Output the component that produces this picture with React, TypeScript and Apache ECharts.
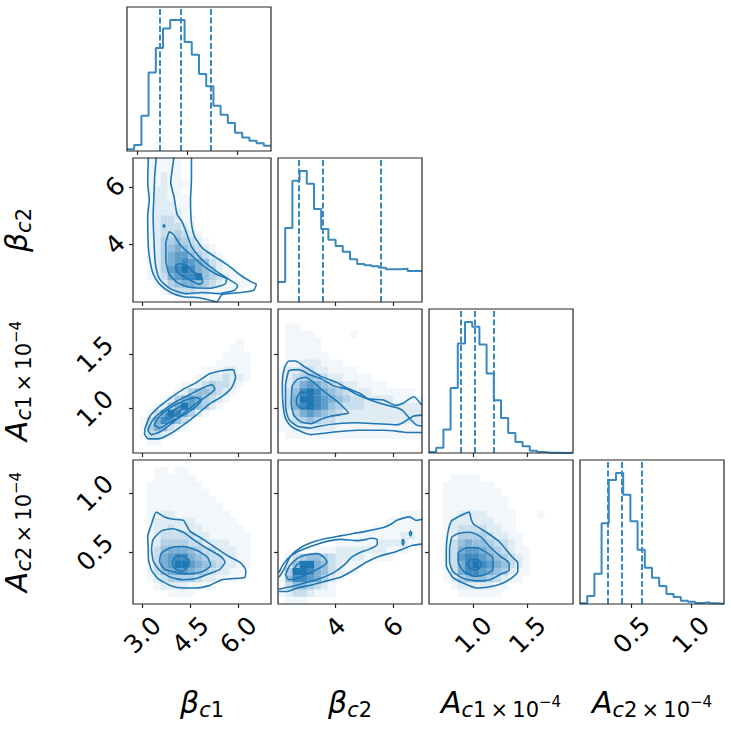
import React, { useEffect, useRef } from 'react';
import * as echarts from 'echarts';

type Pt = [number, number];
type Contour = { closed: boolean; pts: Pt[] };

// ---------- axis ranges and ticks ----------
const betaC1Range: Pt = [2.7, 7.02];
const betaC2Range: Pt = [2.0, 7.0];
const aC1Range: Pt = [0.59, 1.92];
const aC2Range: Pt = [0.065, 1.28];

const betaC1Ticks = [3.0, 4.5, 6.0];
const betaC2Ticks = [4, 6];
const aC1Ticks = [1.0, 1.5];
const aC2Ticks = [0.5, 1.0];
const betaC1TickLabels = ['3.0', '4.5', '6.0'];
const betaC2TickLabels = ['4', '6'];
const aC1TickLabels = ['1.0', '1.5'];
const aC2TickLabels = ['0.5', '1.0'];

const axisTitles = [
  '{m|β}{si|c}{s|1}',
  '{m|β}{si|c}{s|2}',
  '{m|A}{si|c}{s|1\u2009×\u200910}{sup|−4}',
  '{m|A}{si|c}{s|2\u2009×\u200910}{sup|−4}',
];

// ---------- 1D histograms (20 bins over the axis range) ----------
const betaC1Hist = [5, 18, 106, 236, 310, 369, 394, 394, 328, 290, 232, 195, 136, 109, 84, 55, 41, 31, 23, 16];
const betaC2Hist = [60, 222, 364, 393, 355, 279, 219, 187, 168, 151, 128, 114, 110, 107, 103, 98, 98, 100, 93, 93];
const aC1Hist = [3, 16, 70, 195, 328, 392, 378, 325, 238, 158, 105, 60, 33, 20, 7, 3, 1, 1, 0, 1];
const aC2Hist = [2, 24, 91, 243, 373, 394, 329, 249, 163, 109, 79, 54, 30, 21, 10, 7, 3, 5, 2, 1];

const betaC1Quantiles = [3.68, 4.3, 5.2];
const betaC2Quantiles = [2.71, 3.54, 5.57];
const aC1Quantiles = [0.875, 1.012, 1.186];
const aC2Quantiles = [0.301, 0.421, 0.591];

// ---------- 2D densities (rows top -> bottom, 20 x 20, 0..9) ----------
const densBetaC2VsBetaC1 = [
  '00111110000000000000',
  '00111110000000000000',
  '00112110000000000000',
  '00112111000000000000',
  '00122110000000000000',
  '00122111000000000000',
  '00122211000000000000',
  '00122221000000000000',
  '00123321100000000000',
  '00123332100000000000',
  '00123343210000000000',
  '00124454321000000000',
  '00124565432100000000',
  '00124677543210000000',
  '00124678765321000000',
  '00124789865421100000',
  '00123678895432110000',
  '00012456654321111000',
  '00001233322111000000',
  '00000011111000000000',
];
const densAC1VsBetaC1 = [
  '00000000000000000000',
  '00000000000000000000',
  '00000000000000000000',
  '00000000000000000000',
  '00000000000000010000',
  '00000000000000110000',
  '00000000000001111000',
  '00000000000011111000',
  '00000000001112211000',
  '00000000011223221000',
  '00000001123433210000',
  '00000012455432100000',
  '00001246764321000000',
  '00012469754210000000',
  '00136986421000000000',
  '01368753100000000000',
  '01465321000000000000',
  '01332100000000000000',
  '00110000000000000000',
  '00000000000000000000',
];
const densAC2VsBetaC1 = [
  '00000000000000000000',
  '00011011000000000000',
  '00011111100000000000',
  '00111111110000000000',
  '00111111111000000000',
  '00111111111100000000',
  '00111111111110000000',
  '00112211111111000000',
  '00122222211111100000',
  '00122322221111110000',
  '00123333322111111000',
  '00124444332222111000',
  '00135666543322211000',
  '00136788654332211000',
  '00136799765432211000',
  '00135677654322110000',
  '00123444432211100000',
  '00012222111100000000',
  '00000111100000000000',
  '00000000000000000000',
];
const densAC1VsBetaC2 = [
  '00000000000000000000',
  '00000000000000000000',
  '01100000000000000000',
  '01111000001000000000',
  '01111100000000000000',
  '01111100000000000000',
  '01111110000000000000',
  '01122211100000000000',
  '12233221111000000000',
  '12345432211110000000',
  '12467654322111100000',
  '13589865432221111110',
  '13699876543322221111',
  '13689875433322222222',
  '12467654322222222222',
  '12345433222222222222',
  '11222222111111111111',
  '01111111111111111111',
  '00000000000000000000',
  '00000000000000000000',
];
const densAC2VsBetaC2 = [
  '00000000000000000000',
  '00000000000000000000',
  '00000000000000000000',
  '00000000000000000000',
  '00000000000000000000',
  '00000000000000000000',
  '00000000000000000000',
  '00000000000000000111',
  '00000000000000011111',
  '00000000000001111111',
  '00000000000111111221',
  '00000000111111222211',
  '00000111222222211100',
  '01345543222211110000',
  '02599653211100000000',
  '14998653211000000000',
  '15887642100000000000',
  '13554321000000000000',
  '12332111000000000000',
  '01110000000000000000',
];
const densAC2VsAC1 = [
  '00000000000000000000',
  '00000000000000000000',
  '00011110000000000000',
  '00111111100000000000',
  '00111111110000000000',
  '00111111111000000000',
  '00111111111000000000',
  '00112222111100010000',
  '00122222211100000000',
  '00123333221100000000',
  '00124444322110000000',
  '00135655433210000000',
  '00136776543211000000',
  '00137887654321000000',
  '00136898765321000000',
  '00136887654211000000',
  '00124555432110000000',
  '00012222211000000000',
  '00001111110000000000',
  '00000000000000000000',
];

// ---------- contour lines (data coordinates) ----------
const contBetaC2VsBetaC1: Contour[] = [
  { closed: false, pts: [[3.18, 7.02], [3.16, 6.15], [3.21, 5.56], [3.16, 4.98], [3.18, 3.92], [3.23, 3.45], [3.33, 2.98], [3.53, 2.62], [3.88, 2.33], [4.28, 2.18], [4.78, 2.15], [5.18, 2.04], [5.33, 2.01], [5.48, 2.25], [6.08, 2.33], [6.48, 2.41], [6.56, 2.62], [6.43, 2.68], [6.08, 2.92], [5.68, 3.27], [5.28, 3.56], [4.88, 3.86], [4.63, 4.27], [4.53, 4.74], [4.5, 5.56], [4.53, 6.27], [4.53, 7.02]] },
  { closed: false, pts: [[3.43, 7.02], [3.38, 6.39], [3.36, 5.8], [3.33, 4.98], [3.36, 4.04], [3.4, 3.33], [3.53, 2.8], [3.88, 2.45], [4.38, 2.29], [4.88, 2.33], [5.38, 2.29], [5.88, 2.41], [5.98, 2.56], [5.68, 2.8], [5.28, 3.09], [4.88, 3.45], [4.53, 3.92], [4.38, 4.39], [4.23, 4.8], [4.08, 5.04], [3.98, 5.68], [3.88, 6.15], [3.93, 6.62], [3.98, 7.02]] },
  { closed: true, pts: [[3.83, 4.45], [3.73, 4.04], [3.73, 3.45], [3.83, 2.98], [4.08, 2.68], [4.48, 2.51], [5.08, 2.48], [5.58, 2.62], [5.63, 2.8], [5.28, 2.98], [4.88, 3.27], [4.53, 3.62], [4.18, 3.98], [3.98, 4.33]] },
  { closed: true, pts: [[3.64, 4.62], [3.68, 4.6], [3.7, 4.65], [3.66, 4.68]] },
  { closed: true, pts: [[4.03, 3.27], [4.08, 3.04], [4.33, 2.86], [4.78, 2.62], [4.88, 2.68], [4.83, 2.92], [4.58, 3.04], [4.38, 3.27], [4.13, 3.33]] },
];
const contAC1VsBetaC1: Contour[] = [
  { closed: true, pts: [[3.08, 0.82], [3.23, 0.93], [3.53, 1.02], [3.88, 1.1], [4.28, 1.18], [4.68, 1.24], [5.08, 1.32], [5.48, 1.35], [5.83, 1.36], [5.91, 1.29], [5.78, 1.19], [5.48, 1.11], [5.08, 1.04], [4.68, 0.94], [4.28, 0.85], [3.88, 0.77], [3.48, 0.72], [3.18, 0.72], [3.06, 0.77]] },
  { closed: true, pts: [[3.16, 0.8], [3.33, 0.9], [3.68, 0.99], [4.08, 1.07], [4.48, 1.13], [4.88, 1.19], [5.18, 1.22], [5.26, 1.18], [5.08, 1.13], [4.78, 1.07], [4.38, 0.98], [3.98, 0.88], [3.58, 0.79], [3.28, 0.76]] },
  { closed: true, pts: [[3.36, 0.85], [3.53, 0.93], [3.88, 1.01], [4.28, 1.07], [4.68, 1.1], [4.83, 1.08], [4.68, 1.02], [4.28, 0.94], [3.88, 0.88], [3.53, 0.82]] },
  { closed: true, pts: [[3.73, 0.94], [3.93, 0.98], [4.13, 1.01], [4.28, 1.04], [4.18, 0.98], [3.98, 0.93], [3.78, 0.9]] },
];
const contAC2VsBetaC1: Contour[] = [
  { closed: true, pts: [[3.18, 0.53], [3.16, 0.63], [3.28, 0.74], [3.43, 0.84], [3.68, 0.8], [3.98, 0.78], [4.28, 0.77], [4.48, 0.68], [4.78, 0.63], [5.18, 0.56], [5.68, 0.47], [6.08, 0.41], [6.23, 0.35], [6.2, 0.29], [5.88, 0.28], [5.48, 0.27], [5.08, 0.22], [4.68, 0.2], [4.28, 0.2], [3.88, 0.22], [3.48, 0.28], [3.28, 0.35], [3.18, 0.45]] },
  { closed: true, pts: [[3.28, 0.53], [3.33, 0.61], [3.58, 0.68], [3.93, 0.7], [4.28, 0.67], [4.58, 0.61], [4.98, 0.54], [5.43, 0.47], [5.58, 0.42], [5.43, 0.36], [5.08, 0.32], [4.68, 0.28], [4.28, 0.27], [3.88, 0.29], [3.53, 0.35], [3.33, 0.43]] },
  { closed: true, pts: [[3.53, 0.42], [3.58, 0.49], [3.88, 0.54], [4.28, 0.55], [4.68, 0.52], [5.03, 0.46], [5.13, 0.39], [4.88, 0.34], [4.48, 0.32], [4.08, 0.33], [3.68, 0.36]] },
  { closed: true, pts: [[3.93, 0.42], [4.03, 0.46], [4.28, 0.47], [4.46, 0.43], [4.43, 0.38], [4.23, 0.34], [3.98, 0.37]] },
];
const contAC1VsBetaC2: Contour[] = [
  { closed: false, pts: [[7.0, 1.03], [6.71, 1.11], [6.34, 1.05], [6.09, 1.03], [5.66, 1.08], [5.14, 1.09], [4.85, 1.14], [4.39, 1.19], [4.05, 1.24], [3.47, 1.3], [2.9, 1.39], [2.61, 1.44], [2.38, 1.44], [2.23, 1.38], [2.15, 1.24], [2.17, 1.05], [2.26, 0.91], [2.44, 0.84], [2.78, 0.79], [3.13, 0.76], [3.82, 0.78], [4.74, 0.8], [5.66, 0.8], [6.17, 0.79], [6.46, 0.78], [7.0, 0.78]] },
  { closed: false, pts: [[7.0, 0.84], [6.8, 0.85], [6.57, 0.91], [6.34, 0.98], [6.11, 1.01], [5.66, 1.04], [5.2, 1.08], [4.74, 1.13], [4.39, 1.18], [3.93, 1.21], [3.47, 1.28], [3.13, 1.31], [2.72, 1.36], [2.38, 1.35], [2.32, 1.3], [2.26, 1.21], [2.26, 1.02], [2.38, 0.9], [2.67, 0.84], [3.13, 0.82], [3.47, 0.84], [4.05, 0.86], [4.74, 0.87], [5.43, 0.86], [6.11, 0.85], [6.34, 0.87], [6.69, 0.93], [7.0, 0.94]] },
  { closed: true, pts: [[2.49, 1.21], [2.67, 1.27], [2.95, 1.29], [3.24, 1.24], [3.59, 1.16], [3.99, 1.08], [4.28, 1.01], [4.45, 0.96], [4.28, 0.95], [4.05, 0.94], [3.82, 0.93], [3.47, 0.9], [3.13, 0.86], [2.78, 0.88], [2.55, 0.94], [2.46, 1.05]] },
  { closed: true, pts: [[2.67, 1.11], [2.78, 1.15], [3.01, 1.15], [3.15, 1.1], [3.1, 1.03], [2.87, 1.0], [2.67, 1.03], [2.64, 1.08]] },
];
const contAC2VsBetaC2: Contour[] = [
  { closed: false, pts: [[2.03, 0.29], [2.21, 0.36], [2.44, 0.47], [2.78, 0.54], [3.24, 0.59], [3.7, 0.62], [4.16, 0.64], [4.62, 0.66], [5.08, 0.68], [5.66, 0.71], [5.94, 0.74], [6.11, 0.77], [6.57, 0.8], [6.8, 0.77], [7.0, 0.78]] },
  { closed: false, pts: [[7.0, 0.57], [6.69, 0.56], [6.34, 0.53], [6.0, 0.5], [5.54, 0.47], [5.08, 0.42], [4.62, 0.35], [4.16, 0.29], [3.7, 0.26], [3.24, 0.23], [2.67, 0.2], [2.32, 0.17], [2.03, 0.17]] },
  { closed: false, pts: [[2.03, 0.33], [2.21, 0.41], [2.49, 0.48], [2.9, 0.53], [3.36, 0.57], [3.82, 0.6], [4.22, 0.61], [4.74, 0.6], [5.08, 0.61], [5.2, 0.62], [5.43, 0.61], [5.45, 0.57], [5.2, 0.53], [4.85, 0.5], [4.56, 0.46], [4.28, 0.39], [3.93, 0.33], [3.47, 0.28], [2.9, 0.24], [2.44, 0.21], [2.03, 0.19]] },
  { closed: true, pts: [[6.3, 0.59], [6.34, 0.61], [6.38, 0.59], [6.34, 0.56]] },
  { closed: true, pts: [[6.56, 0.66], [6.6, 0.68], [6.64, 0.66], [6.6, 0.64]] },
  { closed: true, pts: [[2.26, 0.31], [2.38, 0.38], [2.67, 0.45], [3.01, 0.48], [3.36, 0.49], [3.59, 0.46], [3.7, 0.42], [3.53, 0.38], [3.13, 0.33], [2.67, 0.28], [2.38, 0.27]] },
  { closed: true, pts: [[2.55, 0.36], [2.67, 0.4], [2.84, 0.42], [2.92, 0.41], [2.84, 0.35], [2.61, 0.32]] },
];
const contAC2VsAC1: Contour[] = [
  { closed: true, pts: [[0.8, 0.77], [0.88, 0.81], [0.96, 0.84], [0.98, 0.78], [1.0, 0.74], [1.12, 0.67], [1.24, 0.59], [1.35, 0.47], [1.41, 0.41], [1.41, 0.34], [1.36, 0.29], [1.27, 0.24], [1.15, 0.21], [1.03, 0.2], [0.91, 0.24], [0.81, 0.29], [0.75, 0.39], [0.75, 0.53], [0.76, 0.64], [0.78, 0.73]] },
  { closed: true, pts: [[0.8, 0.63], [0.86, 0.66], [0.97, 0.67], [1.07, 0.63], [1.16, 0.54], [1.26, 0.46], [1.33, 0.41], [1.33, 0.35], [1.26, 0.32], [1.15, 0.27], [1.03, 0.26], [0.91, 0.28], [0.81, 0.34], [0.78, 0.42], [0.78, 0.53]] },
  { closed: true, pts: [[0.86, 0.5], [0.94, 0.54], [1.03, 0.54], [1.12, 0.5], [1.18, 0.45], [1.18, 0.36], [1.1, 0.31], [1.0, 0.3], [0.91, 0.34], [0.86, 0.42]] },
  { closed: true, pts: [[0.95, 0.42], [0.98, 0.44], [1.04, 0.44], [1.07, 0.41], [1.06, 0.37], [1.01, 0.35], [0.96, 0.37]] },
];

// ---------- assembly ----------
const ranges: Pt[] = [betaC1Range, betaC2Range, aC1Range, aC2Range];
const ticks = [betaC1Ticks, betaC2Ticks, aC1Ticks, aC2Ticks];
const tickLabels = [betaC1TickLabels, betaC2TickLabels, aC1TickLabels, aC2TickLabels];
const hists = [betaC1Hist, betaC2Hist, aC1Hist, aC2Hist];
const quantiles = [betaC1Quantiles, betaC2Quantiles, aC1Quantiles, aC2Quantiles];
const densities: Record<string, string[]> = {
  '1-0': densBetaC2VsBetaC1,
  '2-0': densAC1VsBetaC1,
  '3-0': densAC2VsBetaC1,
  '2-1': densAC1VsBetaC2,
  '3-1': densAC2VsBetaC2,
  '3-2': densAC2VsAC1,
};
const contours: Record<string, Contour[]> = {
  '1-0': contBetaC2VsBetaC1,
  '2-0': contAC1VsBetaC1,
  '3-0': contAC2VsBetaC1,
  '2-1': contAC1VsBetaC2,
  '3-1': contAC2VsBetaC2,
  '3-2': contAC2VsAC1,
};

const COLOR = '#1f77b4';
const HIST_COLOR = '#3a88c0';
const FONT = 'DejaVu Sans';
const xLabelMargin = [31, 23, 31, 31];
const yLabelMargin = [0, 18, 38, 38];

function shade(v: number) {
  const t = Math.pow(v / 9, 1.3);
  const r = Math.round(255 + (31 - 255) * t);
  const g = Math.round(255 + (119 - 255) * t);
  const b = Math.round(255 + (180 - 255) * t);
  return `rgb(${r},${g},${b})`;
}

function densityData(grid: string[], xr: Pt, yr: Pt) {
  const n = grid.length;
  const dx = (xr[1] - xr[0]) / n;
  const dy = (yr[1] - yr[0]) / n;
  const out: number[][] = [];
  grid.forEach((row, ri) => {
    const yi = n - 1 - ri;
    for (let ci = 0; ci < row.length; ci++) {
      const v = Number(row[ci]);
      if (v > 0) out.push([xr[0] + (ci + 0.5) * dx, yr[0] + (yi + 0.5) * dy, v]);
    }
  });
  return { data: out, dx, dy };
}

const nameRich = {
  m: { fontFamily: FONT, fontStyle: 'italic', fontSize: 30, lineHeight: 36, color: '#000', verticalAlign: 'middle' },
  si: { fontFamily: FONT, fontStyle: 'italic', fontSize: 21, lineHeight: 22, color: '#000', verticalAlign: 'bottom' },
  s: { fontFamily: FONT, fontSize: 21, lineHeight: 22, color: '#000', verticalAlign: 'bottom' },
  sup: { fontFamily: FONT, fontSize: 15, lineHeight: 16, color: '#000', verticalAlign: 'middle' },
};

function tickFormatter(i: number) {
  return (v: number) => {
    const k = ticks[i].findIndex((t) => Math.abs(t - v) < 1e-9);
    return k >= 0 ? tickLabels[i][k] : String(v);
  };
}

function buildOption() {
  const grid: any[] = [];
  const xAxis: any[] = [];
  const yAxis: any[] = [];
  const series: any[] = [];
  let gi = 0;
  for (let r = 0; r < 4; r++) {
    for (let c = 0; c <= r; c++) {
      grid.push({
        left: 127 + 151 * c,
        top: 7 + 151 * r,
        width: 144,
        height: 144,
        show: true,
        z: 10,
        backgroundColor: 'transparent',
        borderColor: '#262626',
        borderWidth: 1.2,
      });
      const tickStyle = { show: true, customValues: ticks[c], length: 4, inside: false, lineStyle: { color: '#262626', width: 1.2 } };
      xAxis.push({
        type: 'value',
        gridIndex: gi,
        min: ranges[c][0],
        max: ranges[c][1],
        axisLine: { show: false },
        splitLine: { show: false },
        axisTick: tickStyle,
        axisLabel:
          r === 3
            ? {
                show: true,
                customValues: ticks[c],
                formatter: tickFormatter(c),
                rotate: 45,
                align: 'center',
                verticalAlign: 'middle',
                margin: xLabelMargin[c],
                fontSize: 25,
                fontFamily: FONT,
                color: '#000',
              }
            : { show: false },
        name: r === 3 ? axisTitles[c] : '',
        nameLocation: 'middle',
        nameGap: 80,
        nameTextStyle: { rich: nameRich, fontFamily: FONT, color: '#000' },
      });
      if (r === c) {
        const h = hists[c];
        yAxis.push({
          type: 'value',
          gridIndex: gi,
          min: 0,
          max: Math.max(...h) * 1.1,
          axisLine: { show: false },
          splitLine: { show: false },
          axisTick: { show: false },
          axisLabel: { show: false },
        });
        const [a, b] = ranges[c];
        const w = (b - a) / h.length;
        const pts: number[][] = h.map((cnt, k) => [a + k * w, cnt]);
        pts.push([b, h[h.length - 1]]);
        series.push({
          type: 'line',
          xAxisIndex: gi,
          yAxisIndex: gi,
          step: 'end',
          data: pts,
          showSymbol: false,
          symbol: 'none',
          silent: true,
          lineStyle: { color: HIST_COLOR, width: 2 },
          markLine: {
            silent: true,
            symbol: ['none', 'none'],
            label: { show: false },
            lineStyle: { color: HIST_COLOR, width: 2, type: [6, 2.5] },
            data: quantiles[c].map((q) => ({ xAxis: q })),
          },
        });
      } else {
        yAxis.push({
          type: 'value',
          gridIndex: gi,
          min: ranges[r][0],
          max: ranges[r][1],
          axisLine: { show: false },
          splitLine: { show: false },
          axisTick: { show: true, customValues: ticks[r], length: 4, inside: false, lineStyle: { color: '#262626', width: 1.2 } },
          axisLabel:
            c === 0
              ? {
                  show: true,
                  customValues: ticks[r],
                  formatter: tickFormatter(r),
                  rotate: 45,
                  align: 'center',
                  verticalAlign: 'middle',
                  margin: yLabelMargin[r],
                  fontSize: 25,
                  fontFamily: FONT,
                  color: '#000',
                }
              : { show: false },
          name: c === 0 ? axisTitles[r] : '',
          nameLocation: 'middle',
          nameGap: 99,
          nameTextStyle: { rich: nameRich, fontFamily: FONT, color: '#000' },
        });
        const key = `${r}-${c}`;
        const dens = densityData(densities[key], ranges[c], ranges[r]);
        series.push({
          type: 'custom',
          xAxisIndex: gi,
          yAxisIndex: gi,
          silent: true,
          z: 1,
          data: dens.data,
          encode: { x: 0, y: 1 },
          renderItem: (_p: any, api: any) => {
            const x = api.value(0);
            const y = api.value(1);
            const v = api.value(2);
            const p0 = api.coord([x - dens.dx / 2, y + dens.dy / 2]);
            const p1 = api.coord([x + dens.dx / 2, y - dens.dy / 2]);
            return {
              type: 'rect',
              shape: { x: p0[0], y: p0[1], width: p1[0] - p0[0] + 0.3, height: p1[1] - p0[1] + 0.3 },
              style: { fill: shade(v) },
            };
          },
        });
        contours[key].forEach((ct) => {
          const pts = ct.closed ? [...ct.pts, ct.pts[0]] : ct.pts;
          series.push({
            type: 'line',
            xAxisIndex: gi,
            yAxisIndex: gi,
            data: pts,
            showSymbol: false,
            symbol: 'none',
            silent: true,
            smooth: 0.2,
            z: 3,
            lineStyle: { color: COLOR, width: 1.6 },
          });
        });
      }
      gi++;
    }
  }
  return { animation: false, backgroundColor: '#fff', grid, xAxis, yAxis, series };
}

const App = () => {
  const ref = useRef<HTMLDivElement>(null);
  useEffect(() => {
    const chart = echarts.init(ref.current!, undefined, { renderer: 'svg' });
    chart.setOption(buildOption() as any);
    return () => chart.dispose();
  }, []);
  return (
    <div
      ref={ref}
      style={{ position: 'absolute', left: 0, top: 0, width: 731, height: 731, background: '#fff' }}
    />
  );
};

export default App;
